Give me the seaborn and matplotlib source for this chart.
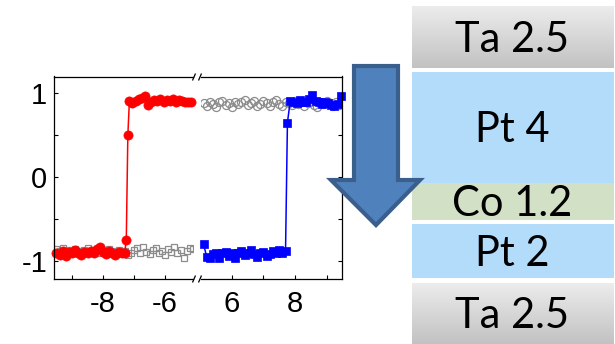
import numpy as np
import matplotlib
matplotlib.use("Agg")
import matplotlib.pyplot as plt
import seaborn as sns
from matplotlib.patches import Polygon, Rectangle

# ---------------- hysteresis loop data (field, normalized signal) ----------------
# descending-field branch drawn in red (negative field side)
red_field = [-9.5, -9.4, -9.3, -9.2, -9.1, -9.0, -8.9, -8.8, -8.7, -8.6, -8.5, -8.4,
             -8.3, -8.2, -8.1, -8.0, -7.9, -7.8, -7.7, -7.6, -7.5, -7.4, -7.3,
             -7.25, -7.2,
             -7.15, -7.05, -6.95, -6.85, -6.75, -6.65, -6.55, -6.45, -6.35, -6.25, -6.15,
             -6.05, -5.95, -5.85, -5.75, -5.65, -5.55, -5.45, -5.35, -5.25, -5.15]
red_signal = [-0.90, -0.93, -0.88, -0.94, -0.89, -0.91, -0.87, -0.90, -0.93, -0.89, -0.91, -0.88,
              -0.90, -0.86, -0.84, -0.89, -0.92, -0.88, -0.90, -0.93, -0.89, -0.91, -0.90,
              -0.75, 0.50,
              0.91, 0.88, 0.91, 0.93, 0.94, 0.97, 0.86, 0.90, 0.92, 0.91, 0.93,
              0.89, 0.92, 0.91, 0.93, 0.90, 0.92, 0.91, 0.89, 0.90, 0.89]

# reference branch, negative side (open squares)
sq_field = [-9.5, -9.4, -9.3, -9.2, -9.1, -9.0, -8.9, -8.8, -8.7, -8.6, -8.5, -8.4,
            -8.3, -8.2, -8.1, -8.0, -7.9, -7.8, -7.7, -7.6, -7.5, -7.4, -7.3, -7.2,
            -7.1, -7.0, -6.9, -6.8, -6.7, -6.6, -6.5, -6.4, -6.3, -6.2, -6.1, -6.0,
            -5.9, -5.8, -5.7, -5.6, -5.5, -5.4, -5.3, -5.2, -5.1]
sq_signal = [-0.86, -0.88, -0.85, -0.89, -0.87, -0.90, -0.86, -0.88, -0.91, -0.87, -0.85, -0.89,
             -0.88, -0.86, -0.90, -0.87, -0.89, -0.86, -0.88, -0.90, -0.87, -0.91, -0.88, -0.93,
             -0.90, -0.87, -0.85, -0.91, -0.83, -0.89, -0.92, -0.87, -0.85, -0.90, -0.88, -0.93,
             -0.86, -0.89, -0.84, -0.91, -0.87, -0.96, -0.88, -0.85, -0.86]

# reference branch, positive side (open circles)
circ_field = [5.1, 5.2, 5.3, 5.4, 5.5, 5.6, 5.7, 5.8, 5.9, 6.0, 6.1, 6.2, 6.3, 6.4, 6.5,
              6.6, 6.7, 6.8, 6.9, 7.0, 7.1, 7.2, 7.3, 7.4, 7.5, 7.6, 7.7, 7.8, 7.9, 8.0,
              8.1, 8.2, 8.3, 8.4, 8.5, 8.6, 8.7, 8.8, 8.9, 9.0, 9.1, 9.2, 9.3, 9.4, 9.5]
circ_signal = [0.88, 0.85, 0.90, 0.87, 0.84, 0.89, 0.91, 0.86, 0.88, 0.84, 0.90, 0.87, 0.89, 0.92, 0.86,
               0.88, 0.91, 0.85, 0.87, 0.91, 0.88, 0.85, 0.89, 0.92, 0.87, 0.85, 0.90, 0.88, 0.86, 0.91,
               0.87, 0.89, 0.85, 0.88, 0.90, 0.86, 0.84, 0.89, 0.87, 0.91, 0.88, 0.85, 0.90, 0.86, 0.87]

# ascending-field branch drawn in blue (positive field side)
blue_field = [5.1, 5.2, 5.3, 5.4, 5.5, 5.6, 5.7, 5.8, 5.9, 6.0, 6.1, 6.2, 6.3, 6.4,
              6.5, 6.6, 6.7, 6.8, 6.9, 7.0, 7.1, 7.2, 7.3, 7.4, 7.5, 7.6, 7.7,
              7.76,
              7.85, 7.95, 8.05, 8.15, 8.25, 8.35, 8.45, 8.55, 8.65, 8.75, 8.85, 8.95,
              9.05, 9.15, 9.25, 9.35, 9.45]
blue_signal = [-0.80, -0.95, -0.97, -0.92, -0.90, -0.96, -0.91, -0.89, -0.94, -0.91, -0.96, -0.90, -0.88, -0.93,
               -0.90, -0.87, -0.92, -0.95, -0.91, -0.89, -0.94, -0.92, -0.88, -0.91, -0.87, -0.90, -0.88,
               0.65,
               0.91, 0.90, 0.88, 0.92, 0.89, 0.90, 0.93, 0.98, 0.91, 0.89, 0.87, 0.90,
               0.88, 0.86, 0.85, 0.87, 0.97]

# tick labels
left_ticks = [-9, -8, -7, -6]
left_labels = ["", "-8", "", "-6"]
right_ticks = [6, 7, 8, 9]
right_labels = ["6", "", "8", ""]
y_ticks = [-1, -0.5, 0, 0.5, 1]
y_labels = ["-1", "", "0", "", "1"]

# layer stack: name, top / bottom edge in pixels, fill kind
layer_names = ["Ta 2.5", "Pt 4", "Co 1.2", "Pt 2", "Ta 2.5"]
layer_tops = [6, 72, 183, 224, 283]
layer_bottoms = [68, 183, 220, 278, 344]
layer_kinds = ["ta", "pt", "co", "pt", "ta"]

# ---------------- style ----------------
sns.set_style("ticks")
plt.rcParams["font.family"] = ["Liberation Sans", "DejaVu Sans"]
plt.rcParams["axes.unicode_minus"] = False

W, H = 615, 344
fig = plt.figure(figsize=(W / 100, H / 100), dpi=100)


def frame(x0, x1, y0, y1):
    return [x0 / W, 1 - y1 / H, (x1 - x0) / W, (y1 - y0) / H]


ax_l = fig.add_axes(frame(54, 193, 76.5, 278.5))
ax_r = fig.add_axes(frame(201, 342, 76.5, 278.5))

mk = dict(estimator=None, sort=False, legend=False)

# left panel: open squares under the red loop branch
sns.lineplot(x=sq_field, y=sq_signal, ax=ax_l, linestyle="", marker="s", markersize=5.0,
             mfc="none", mec="#8c8c8c", mew=0.9, color="#8c8c8c", **mk)
sns.lineplot(x=red_field, y=red_signal, ax=ax_l, color="red", linewidth=1.1, marker="o",
             markersize=6.6, mec="red", mew=0.5, clip_on=False, **mk)

# right panel: open circles under the blue loop branch
sns.lineplot(x=circ_field, y=circ_signal, ax=ax_r, linestyle="", marker="o", markersize=5.8,
             mfc="none", mec="#8c8c8c", mew=0.9, color="#8c8c8c", **mk)
sns.lineplot(x=blue_field, y=blue_signal, ax=ax_r, color="blue", linewidth=1.1, marker="s",
             markersize=5.8, mec="blue", mew=0.5, clip_on=False, **mk)

for ax in (ax_l, ax_r):
    ax.set_ylim(-1.21, 1.20)
    ax.set_yticks(y_ticks)
    ax.set_xlabel("")
    ax.set_ylabel("")
    ax.set_facecolor("white")
    for s in ax.spines.values():
        s.set_linewidth(0.9)
        s.set_color("black")
    ax.tick_params(direction="in", length=3, width=0.8, labelsize=21, colors="black")

ax_l.set_xlim(-9.58, -5.10)
ax_l.set_xticks(left_ticks)
ax_l.set_xticklabels(left_labels)
ax_l.set_yticklabels(y_labels)
ax_l.spines["right"].set_visible(False)
ax_l.tick_params(axis="y", pad=5)
ax_l.tick_params(axis="x", pad=8)

ax_r.set_xlim(5.02, 9.49)
ax_r.set_xticks(right_ticks)
ax_r.set_xticklabels(right_labels)
ax_r.spines["left"].set_visible(False)
ax_r.yaxis.tick_right()
ax_r.tick_params(axis="y", labelright=False, left=False)
ax_r.tick_params(axis="x", pad=8)

# ---------------- overlay in pixel coordinates ----------------
ov = fig.add_axes([0, 0, 1, 1])
ov.set_zorder(10)
ov.patch.set_visible(False)
ov.set_xlim(0, W)
ov.set_ylim(H, 0)
ov.axis("off")

# axis break marks
for yb in (77, 279):
    for xb in (192.5, 198.5):
        ov.plot([xb, xb + 3], [yb + 3.5, yb - 3.5], color="black", lw=0.9, solid_capstyle="butt")

# layer stack
bx0, bx1 = 412, 613.5
grad = np.linspace(236, 194, 64)[:, None, None] * np.ones((1, 1, 3)) / 255.0
fills = {"pt": "#b3dcfb", "co": "#d2e1c6"}
for name, t, b, kind in zip(layer_names, layer_tops, layer_bottoms, layer_kinds):
    if kind == "ta":
        ov.imshow(grad, extent=(bx0, bx1, b, t), aspect="auto", origin="upper",
                  interpolation="bilinear", zorder=1)
    else:
        ov.add_patch(Rectangle((bx0, t), bx1 - bx0, b - t, facecolor=fills[kind],
                               edgecolor="none", zorder=1))
    cap = 29.9
    ov.text(512, (t + b) / 2 + cap / 2, name, ha="center", va="baseline",
            fontsize=30, family=["Lato", "DejaVu Sans"], color="black", zorder=3)

# big downward arrow
arrow = Polygon([(354, 66), (398, 66), (398, 180), (420, 180), (376, 225),
                 (331, 180), (354, 180)], closed=True, facecolor="#4f81bd",
                edgecolor="#3b5f8c", linewidth=3, joinstyle="miter", zorder=5)
ov.add_patch(arrow)

ov.set_xlim(0, W)
ov.set_ylim(H, 0)

fig.savefig("out.png", dpi=100, facecolor="white")
